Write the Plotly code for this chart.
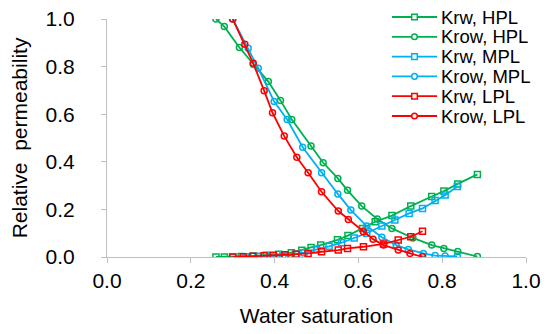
import plotly.graph_objects as go

# HPL
hpl_krw_x = [0.26, 0.28, 0.30, 0.32, 0.35, 0.38, 0.41, 0.44, 0.465, 0.487, 0.51, 0.55, 0.575, 0.61, 0.64, 0.68, 0.725, 0.775, 0.804, 0.837, 0.884]
hpl_krw_y = [0.0, 0.0, 0.0, 0.002, 0.004, 0.007, 0.012, 0.018, 0.028, 0.04, 0.05, 0.072, 0.09, 0.12, 0.148, 0.174, 0.214, 0.254, 0.277, 0.307, 0.347]
hpl_krow_x = [0.26, 0.28, 0.316, 0.349, 0.385, 0.414, 0.441, 0.487, 0.516, 0.551, 0.574, 0.608, 0.645, 0.68, 0.73, 0.775, 0.804, 0.837, 0.884]
hpl_krow_y = [1.0, 0.968, 0.88, 0.81, 0.737, 0.658, 0.578, 0.466, 0.396, 0.33, 0.28, 0.214, 0.16, 0.12, 0.08, 0.05, 0.036, 0.023, 0.002]

# MPL
mpl_krw_x = [0.30, 0.33, 0.36, 0.39, 0.42, 0.45, 0.47, 0.50, 0.53, 0.56, 0.59, 0.62, 0.656, 0.687, 0.721, 0.753, 0.783, 0.807, 0.836]
mpl_krw_y = [0.0, 0.001, 0.003, 0.005, 0.008, 0.012, 0.018, 0.03, 0.045, 0.06, 0.08, 0.10, 0.13, 0.155, 0.183, 0.204, 0.237, 0.26, 0.296]
mpl_krow_x = [0.30, 0.337, 0.361, 0.399, 0.43, 0.467, 0.512, 0.551, 0.582, 0.62, 0.656, 0.69, 0.719, 0.755, 0.783, 0.807, 0.836]
mpl_krow_y = [1.0, 0.877, 0.793, 0.653, 0.578, 0.461, 0.354, 0.265, 0.197, 0.13, 0.083, 0.05, 0.032, 0.015, 0.006, 0.004, 0.003]

# LPL
lpl_krw_x = [0.30, 0.325, 0.348, 0.375, 0.397, 0.425, 0.451, 0.48, 0.512, 0.552, 0.574, 0.612, 0.66, 0.695, 0.725, 0.753]
lpl_krw_y = [0.0, 0.001, 0.003, 0.005, 0.007, 0.009, 0.012, 0.015, 0.022, 0.029, 0.036, 0.043, 0.055, 0.071, 0.085, 0.108]
lpl_krow_x = [0.30, 0.329, 0.349, 0.375, 0.395, 0.423, 0.453, 0.48, 0.512, 0.552, 0.576, 0.612, 0.635, 0.66, 0.695, 0.723, 0.753]
lpl_krow_y = [1.0, 0.894, 0.814, 0.699, 0.606, 0.508, 0.419, 0.354, 0.274, 0.193, 0.158, 0.106, 0.075, 0.05, 0.029, 0.015, 0.001]

tick_vals = [0, 0.2, 0.4, 0.6, 0.8, 1.0]
tick_text = ["0.0", "0.2", "0.4", "0.6", "0.8", "1.0"]

GREEN = "#00B050"
CYAN = "#00B0F0"
RED = "#FF0000"

series = [
    ("Krw, HPL", hpl_krw_x, hpl_krw_y, GREEN, "square-open", "rect"),
    ("Krow, HPL", hpl_krow_x, hpl_krow_y, GREEN, "circle-open", "circle"),
    ("Krw, MPL", mpl_krw_x, mpl_krw_y, CYAN, "square-open", "rect"),
    ("Krow, MPL", mpl_krow_x, mpl_krow_y, CYAN, "circle-open", "circle"),
    ("Krw, LPL", lpl_krw_x, lpl_krw_y, RED, "square-open", "rect"),
    ("Krow, LPL", lpl_krow_x, lpl_krow_y, RED, "circle-open", "circle"),
]

# page body has an 8px margin -> figure drawn offset by 8px
OFF = 8
W, H = 542, 326
ML, MR, MT, MB = 107 - OFF, 24, 19 - OFF, 77
PW, PH = W - ML - MR, H - MT - MB

def px2paper_x(px):  # px in screenshot coordinates
    return (px - OFF - ML) / PW

def py2paper_y(py):
    return (H - MB - (py - OFF)) / PH

fig = go.Figure()
shapes = []
annotations = []
for i, (name, xs, ys, col, sym, shp) in enumerate(series):
    fig.add_trace(go.Scatter(
        x=xs, y=ys, name=name, mode="lines+markers", showlegend=False,
        line=dict(color=col, width=1.8),
        marker=dict(symbol=sym, size=6, color=col, line=dict(color=col, width=1.5)),
    ))
    # manual legend entry
    row_y = py2paper_y(17 + 19.8 * i)
    x0, x1 = px2paper_x(392), px2paper_x(437)
    xm = px2paper_x(414.5)
    shapes.append(dict(type="line", xref="paper", yref="paper", x0=x0, x1=x1, y0=row_y, y1=row_y,
                       line=dict(color=col, width=1.8)))
    shapes.append(dict(type=shp, xref="paper", yref="paper", xsizemode="pixel", ysizemode="pixel",
                       xanchor=xm, yanchor=row_y, x0=-2.8, x1=2.8, y0=-2.8, y1=2.8,
                       line=dict(color=col, width=1.5), fillcolor="white"))
    annotations.append(dict(xref="paper", yref="paper", x=px2paper_x(439), y=row_y,
                            xanchor="left", yanchor="middle", showarrow=False, text=name,
                            font=dict(size=18.5, color="black")))

AX = "#BFBFBF"
fig.update_layout(
    width=W, height=H,
    margin=dict(l=ML, r=MR, t=MT, b=MB),
    paper_bgcolor="white", plot_bgcolor="white",
    font=dict(family="Liberation Sans, Arial, sans-serif", size=21, color="black"),
    showlegend=False,
    shapes=shapes,
    annotations=annotations,
    xaxis=dict(range=[0, 1], tickvals=tick_vals, ticktext=tick_text, automargin=False,
               showgrid=False, zeroline=False, showline=True, linecolor=AX, linewidth=1,
               ticks="outside", ticklen=5, tickcolor=AX, ticklabelstandoff=0,
               ticklabeloverflow="allow",
               title=dict(text="Water saturation", font=dict(size=21), standoff=17)),
    yaxis=dict(range=[0, 1], tickvals=tick_vals, ticktext=tick_text, automargin=False,
               showgrid=False, zeroline=False, showline=True, linecolor=AX, linewidth=1,
               ticks="outside", ticklen=5, tickcolor=AX, ticklabelstandoff=22,
               ticklabeloverflow="allow",
               title=dict(text="Relative  permeability", font=dict(size=21), standoff=15)),
)

fig.write_html("out.html")
